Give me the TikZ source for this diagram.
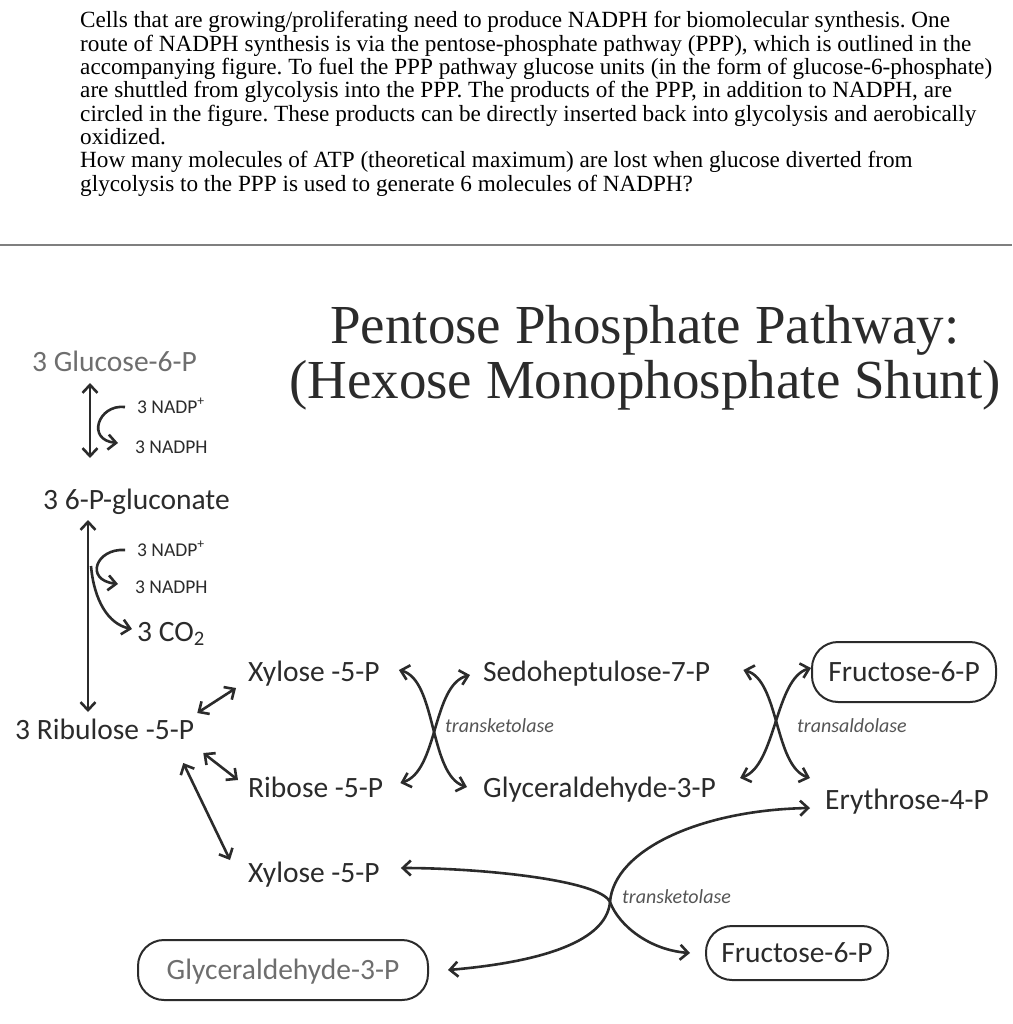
\documentclass[tikz,border=0pt]{standalone}
\usepackage{fontspec}
\setmainfont{Liberation Serif}
\newfontfamily\calibri{Carlito}
\usetikzlibrary{arrows.meta}
\definecolor{ink}{HTML}{2B2B2B}
\definecolor{fadedgray}{HTML}{6E6E6E}
\definecolor{enzgray}{HTML}{555555}
\definecolor{rulegray}{HTML}{7F7F7F}

\begin{document}
\frenchspacing
\begin{tikzpicture}[x=1pt,y=-1pt,
  para/.style={anchor=base west,inner sep=0pt,font=\fontsize{23.2}{25}\selectfont},
  head/.style={anchor=base,inner sep=0pt,text=ink,font=\fontsize{55}{58}\selectfont},
  met/.style={anchor=base west,inner sep=0pt,text=ink,font=\calibri\fontsize{29.5}{32}\selectfont},
  cof/.style={anchor=base west,inner sep=0pt,text=ink,font=\calibri\fontsize{19.5}{22}\selectfont},
  enz/.style={anchor=base west,inner sep=0pt,text=enzgray,font=\calibri\itshape\fontsize{20}{22}\selectfont},
  oval/.style={draw=ink,line width=2pt,rounded corners=26pt,inner sep=0pt,text=ink,
    text height=19pt,text depth=0pt,font=\calibri\fontsize{29.5}{32}\selectfont},
  arr/.style={draw=ink,line width=2.6pt,-{Straight Barb[length=8pt,width=15pt]}},
  dbl/.style={draw=ink,line width=2.6pt,{Straight Barb[length=8pt,width=15pt]}-{Straight Barb[length=8pt,width=15pt]}}]
\useasboundingbox (0,0) rectangle (1012,1024);

% the question
\foreach \txt [count=\i] in {
  {Cells that are growing/proliferating need to produce NADPH for biomolecular synthesis. One},
  {route of NADPH synthesis is via the pentose-phosphate pathway (PPP), which is outlined in the},
  {accompanying figure. To fuel the PPP pathway glucose units (in the form of glucose-6-phosphate)},
  {are shuttled from glycolysis into the PPP. The products of the PPP, in addition to NADPH, are},
  {circled in the figure. These products can be directly inserted back into glycolysis and aerobically},
  {oxidized.},
  {How many molecules of ATP (theoretical maximum) are lost when glucose diverted from},
  {glycolysis to the PPP is used to generate 6 molecules of NADPH?}}
  \node[para] (q\i) at (80,{28+23.3*(\i-1)}) {\txt};
\draw[rulegray,line width=2.5pt] (0,245) -- (1012,245);

% title
\node[head] (title1) at (645,343) {Pentose Phosphate Pathway:};
\node[head] (title2) at (645,398) {(Hexose Monophosphate Shunt)};

% oxidative branch
\node[met,text=fadedgray] (g6p) at (32,371.5) {3 Glucose-6-P};
\node[cof] (nadp1) at (137,413) {3 NADP\textsuperscript{+}};
\node[cof] (nadph1) at (135,453) {3 NADPH};
\node[met] (gluc) at (43,509.5) {3 6-P-gluconate};
\node[cof] (nadp2) at (137,556) {3 NADP\textsuperscript{+}};
\node[cof] (nadph2) at (135,593) {3 NADPH};
\node[met] (co2) at (137,641) {3 CO\textsubscript{2}};
\node[met] (ru5p) at (15,739.5) {3 Ribulose -5-P};

\draw[dbl] ([shift={(58,11.5)}]g6p.base west) -- ([shift={(47,-51.5)}]gluc.base west);
\draw[arr] ([shift={(-12,-6)}]nadp1.base west) .. controls (98,404) and (86,440) .. ([shift={(-17,-10)}]nadph1.base west);
\draw[dbl] ([shift={(45,10.5)}]gluc.base west) -- ([shift={(73,-27.5)}]ru5p.base west);
\draw[arr] ([shift={(-12,-6)}]nadp2.base west) .. controls (96,548) and (84,580) .. ([shift={(-17,-9)}]nadph2.base west);
\coordinate (fork) at (91,566);
\draw[arr] (fork) .. controls (94,600) and (108,624) .. ([shift={(-5,-12)}]co2.base west);

% non-oxidative branch
\node[met] (xyl1) at (248,681.5) {Xylose -5-P};
\node[met] (rib) at (248,797.5) {Ribose -5-P};
\node[met] (xyl2) at (248,882.5) {Xylose -5-P};
\node[met] (sed) at (483,681.5) {Sedoheptulose-7-P};
\node[met] (gap1) at (483,797.5) {Glyceraldehyde-3-P};
\node[oval,minimum width=184pt,minimum height=60pt] (f6p1) at (904,672) {Fructose-6-P};
\node[met] (ery) at (825,809.5) {Erythrose-4-P};
\node[oval,minimum width=182pt,minimum height=54pt] (f6p2) at (797,953) {Fructose-6-P};
\node[oval,text=fadedgray,minimum width=290pt,minimum height=60pt] (gap2) at (283,970) {Glyceraldehyde-3-P};
\node[enz] (tk1) at (445,732) {transketolase};
\node[enz] (ta) at (797,732) {transaldolase};
\node[enz] (tk2) at (622,903) {transketolase};

\draw[dbl] ([shift={(3,-26.5)}]ru5p.base east) -- ([shift={(-12,6.5)}]xyl1.base west);
\draw[dbl] ([shift={(9,13.5)}]ru5p.base east) -- ([shift={(-10,-17.5)}]rib.base west);
\draw[dbl] ([shift={(-11,23.5)}]ru5p.base east) -- ([shift={(-18,-22.5)}]xyl2.base west);

\draw[dbl] ([shift={(19,-11.5)}]xyl1.base east) .. controls +(38,10) and +(-38,-12) .. ([shift={(-16,-10.5)}]gap1.base west);
\draw[dbl] ([shift={(-13,-6.5)}]sed.base west) .. controls +(-38,10) and +(38,-12) .. ([shift={(17,-14.5)}]rib.base east);

\draw[dbl] ([shift={(33,-11.5)}]sed.base east) .. controls +(36,10) and +(-36,-12) .. ([shift={(-15,-31.5)}]ery.base west);
\draw[dbl] ([shift={(0,-4)}]f6p1.west) .. controls +(-36,10) and +(36,-12) .. ([shift={(24,-19.5)}]gap1.base east);

\coordinate (tkx) at (610,902);
\draw[dbl] ([shift={(21,-14.5)}]xyl2.base east) .. controls +(80,0) and (600,880) .. (tkx)
  .. controls (619,926) and (650,950) .. ([shift={(-15,0)}]f6p2.west);
\draw[dbl] ([shift={(-15,-1.5)}]ery.base west) .. controls +(-110,2) and (614,850) .. (tkx)
  .. controls (606,945) and (530,963) .. ([shift={(19,0)}]gap2.east);
\end{tikzpicture}
\end{document}
